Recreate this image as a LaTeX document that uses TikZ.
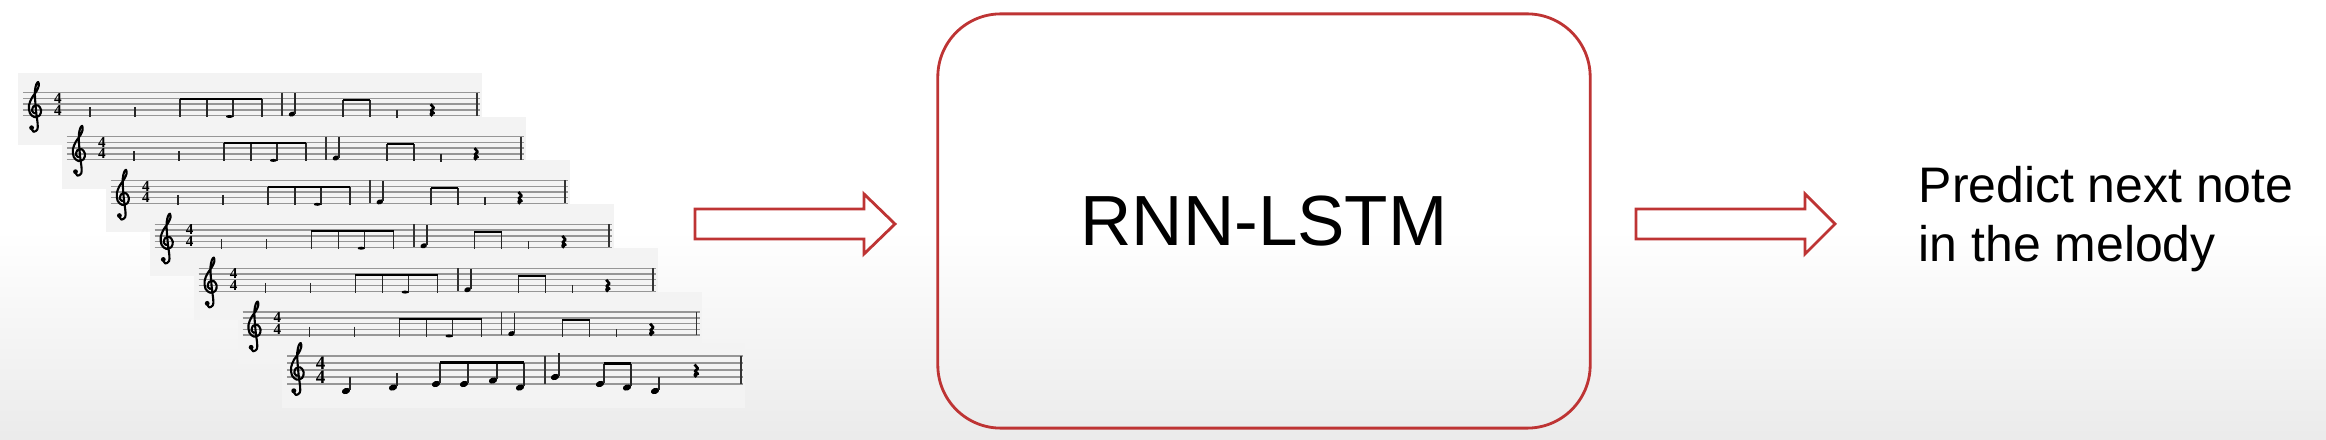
\documentclass[tikz,border=0pt]{standalone}
\usepackage{fontspec}
\setmainfont{Liberation Sans}
\newfontfamily\tsfont{Liberation Serif}
\definecolor{boxred}{RGB}{190,52,52}
\definecolor{staffbg}{RGB}{243,243,243}
\definecolor{stafflinecol}{RGB}{150,150,150}
\tikzset{
  sline/.style={draw=stafflinecol, line width=0.4pt},
  stemline/.style={draw=black!85, line width=0.4pt},
  barline/.style={draw=black!80, line width=0.55pt},
  clefline/.style={draw=black, line width=0.6pt, line cap=round, line join=round},
  restline/.style={draw=black, line width=0.75pt, line join=round},
  redbox/.style={draw=boxred, line width=0.8pt, rounded corners=0.63cm,
    minimum width=6.52cm, minimum height=4.14cm, inner sep=0pt,
    font=\fontsize{20.2}{24}\selectfont},
  blockarrow/.style={draw=boxred, line width=0.8pt, line join=miter},
  tsig/.style={inner sep=0pt, font=\tsfont\bfseries\fontsize{#1}{#1}\selectfont},
  outtext/.style={anchor=west, align=left, inner sep=0pt,
    font=\fontsize{14.2}{16.8}\selectfont},
}
\newcommand\drawclef[3]{%
  \begin{scope}[shift={(#1,#2)}, scale=#3]
    \draw[clefline] plot[smooth, tension=0.55] coordinates {(0.75,6.15) (1.15,6.8) (1.8,6.4) (1.85,5.4) (1.62,3.6) (1.42,1.3) (1.38,-0.3) (1.62,-1.45) (1.95,-1.86) (2.05,-1.2) (1.65,-0.25) (0.85,0.9) (0.35,2.2) (0.5,3.55) (1.3,4.25) (2.2,3.95) (2.45,3.0) (1.9,2.2) (1.1,2.4) (0.9,3.2) (1.35,3.6)};
    \fill[black] (0.8,6.1) circle (0.42);
  \end{scope}}
\newcommand\drawrest[3]{%
  \begin{scope}[shift={(#1,#2)}, scale=#3]
    \draw[restline] (-1.5,0) -- (2,4.2) -- (-1,7) -- (2,10) .. controls (-1.5,8.5) and (-2.5,11.5) .. (0.5,13);
  \end{scope}}
\newcommand\ghoststaff[3]{%
  \begin{scope}[shift={(#2,#3)}]
    \foreach \i in {0,...,4} \draw[sline] (-4,\i*5.75) -- (453,\i*5.75);
    \drawclef{0}{0}{5.75}
    \node[tsig=4.3] (ts#1a) at (31,5.6) {4};
    \node[tsig=4.3] (ts#1b) at (31,17.4) {4};
    \draw[stemline] (63,14.5) -- (63,24.5) (108,14.5) -- (108,24.5);
    \foreach \sx in {153,180,206,235} \draw[stemline] (\sx,6.6) -- (\sx,24.5);
    \fill[black] (152.7,5.4) rectangle (235.3,7.8);
    \fill[black] (202.5,23.8) ellipse (3.5 and 1.5);
    \draw[barline] (255,0) -- (255,23);
    \fill[black, rotate around={20:(265,21.4)}] (265,21.4) ellipse (3.4 and 2.4);
    \draw[stemline] (268.2,0.5) -- (268.2,21);
    \foreach \sx in {316,343} \draw[stemline] (\sx,7.5) -- (\sx,24.5);
    \fill[black] (315.7,6.4) rectangle (343.3,8.5);
    \draw[stemline] (370,17) -- (370,25);
    \drawrest{405}{11.5}{0.9}
    \draw[barline] (450,0) -- (450,23);
  \end{scope}}
\begin{document}
\begin{tikzpicture}[x=0.01cm, y=-0.01cm]
  \useasboundingbox (0,0) rectangle (2326,440);
  \fill[white] (0,0) rectangle (2326,440);
  \shade[top color=white, bottom color=black!8] (0,230) rectangle (2326,440);

  % staff backgrounds
  \foreach \k in {0,...,5} {
    \fill[staffbg] ({27+43.9*\k-9},{92.7+43.9*\k-20}) rectangle ({27+43.9*\k+455},{92.7+43.9*\k+52});
  }
  \fill[staffbg] (282,343) rectangle (745,408);

  % ghost staves 1-6
  \ghoststaff{1}{27}{92.7}
  \ghoststaff{2}{70.9}{136.6}
  \ghoststaff{3}{114.8}{180.5}
  \ghoststaff{4}{158.7}{224.4}
  \ghoststaff{5}{202.6}{268.3}
  \ghoststaff{6}{246.5}{312.2}

  % front staff 7
  \begin{scope}[shift={(289,356)}]
    \foreach \i in {0,...,4} \draw[sline] (-2,\i*7) -- (454,\i*7);
    \drawclef{0}{-1.8}{6.0}
    \node[tsig=5.4] (ts7a) at (31.5,6.8) {4};
    \node[tsig=5.4] (ts7b) at (31.5,21.2) {4};
    \foreach \hx/\hy/\st in {57/35/21, 104/31.5/17, 266/21/-3, 366/35/21} {
      \fill[black, rotate around={20:(\hx,\hy)}] (\hx,\hy) ellipse (4.3 and 3);
      \draw[stemline] (\hx+3.8,\hy-1) -- (\hx+3.8,\st);
    }
    \foreach \hx/\hy in {147/28, 175/28, 204/24.5, 231/31.5} {
      \fill[black, rotate around={20:(\hx,\hy)}] (\hx,\hy) ellipse (4.3 and 3);
      \draw[stemline] (\hx+3.8,\hy-1) -- (\hx+3.8,7);
    }
    \fill[black] (150.5,5.5) rectangle (235.1,8.5);
    \foreach \hx/\hy in {311/28, 338/31.5} {
      \fill[black, rotate around={20:(\hx,\hy)}] (\hx,\hy) ellipse (4.3 and 3);
      \draw[stemline] (\hx+3.8,\hy-1) -- (\hx+3.8,8);
    }
    \fill[black] (314.5,6.5) rectangle (342.1,9.5);
    \draw[barline] (256,0) -- (256,28);
    \drawrest{407}{8.5}{0.95}
    \draw[barline] (452,0) -- (452,28);
  \end{scope}

  % arrows
  \draw[blockarrow] (695,209) -- (864,209) -- (864,194) -- (895,224) -- (864,254) -- (864,239) -- (695,239) -- cycle;
  \draw[blockarrow] (1636,209) -- (1805,209) -- (1805,194) -- (1835,224) -- (1805,254) -- (1805,239) -- (1636,239) -- cycle;

  % model box
  \node[redbox] (rnn) at (1264,221) {RNN-LSTM};

  % output text
  \node[outtext] (out) at (1918,219) {Predict next note\\in the melody};
\end{tikzpicture}
\end{document}
